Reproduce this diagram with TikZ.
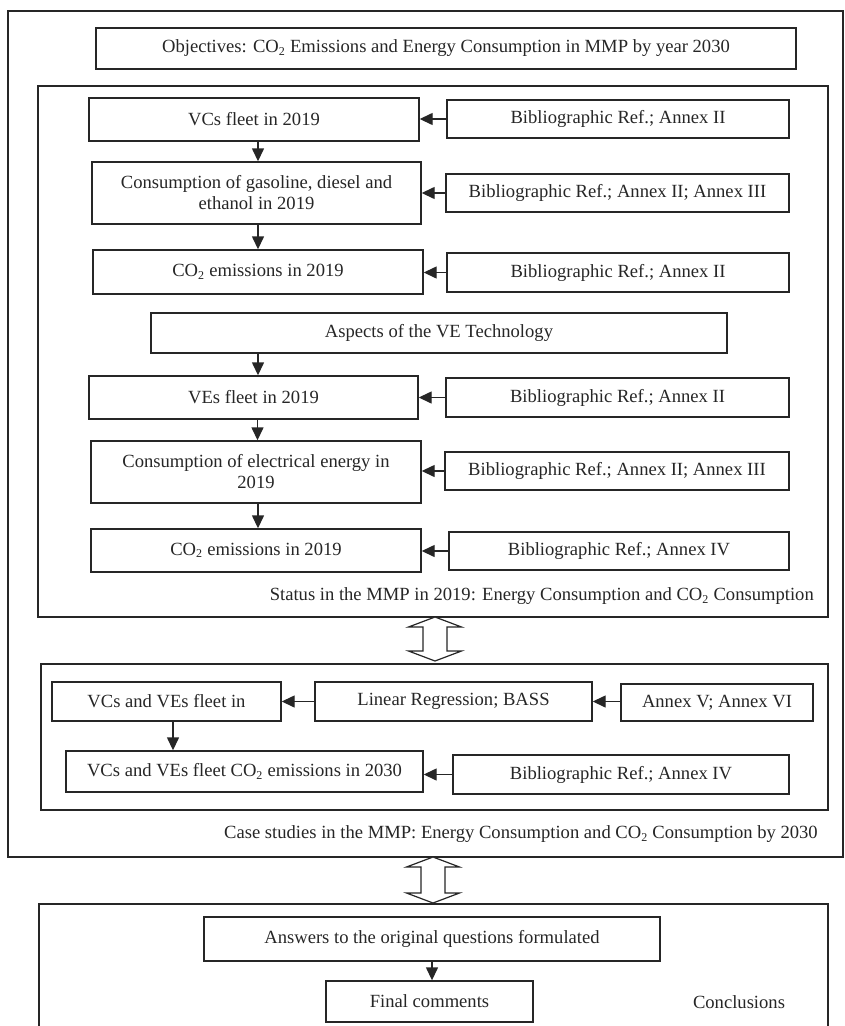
\documentclass[tikz,border=0pt]{standalone}
\usepackage{fontspec}
\setmainfont{Liberation Serif}
\usetikzlibrary{arrows.meta,calc}
\tikzset{
  ln/.style={draw=black!85, line width=1.4pt},
  box/.style={ln, rectangle, inner sep=0pt, align=center, text=black!85},
  lbl/.style={inner sep=0pt, text=black!85},
  arr/.style={ln, -{Triangle[length=13pt,width=12pt]}},
  hollow/.style={ln, fill=white, line width=1.2pt, line join=miter}
}
\newcommand{\cotwo}{CO\textsubscript{\fontsize{12}{12}\selectfont 2}}
\begin{document}
\begin{tikzpicture}[x=1pt,y=-1pt,font=\fontsize{18.6}{21}\selectfont]
\useasboundingbox (0,0) rectangle (845,1026);
% frames
\draw[ln] (8,11) rectangle (843,857);
\draw[ln] (38,86) rectangle (828,617);
\draw[ln] (41,664) rectangle (828,810);
\draw[ln] (39,1040) |- (828,904) -- (828,1040);
% objectives
\node[box, minimum width=700, minimum height=41] (obj) at (446,48.5) {Objectives: \cotwo{} Emissions and Energy Consumption in MMP by year 2030};
% status section
\node[box, minimum width=330, minimum height=43] (vcs) at (254,119.5) {VCs fleet in 2019};
\node[box, minimum width=342, minimum height=38] (bib1) at (618,119) {Bibliographic Ref.; Annex II};
\node[box, minimum width=329, minimum height=62] (cons1) at (256.5,193) {Consumption of gasoline, diesel and\\ethanol in 2019};
\node[box, minimum width=343, minimum height=38] (bib2) at (617.5,193) {Bibliographic Ref.; Annex II; Annex III};
\node[box, minimum width=330, minimum height=44] (co2a) at (258,272) {\cotwo{} emissions in 2019};
\node[box, minimum width=342, minimum height=39] (bib3) at (618,272.5) {Bibliographic Ref.; Annex II};
\node[box, minimum width=576, minimum height=40] (asp) at (439,333) {Aspects of the VE Technology};
\node[box, minimum width=329, minimum height=43] (ves) at (253.5,397.5) {VEs fleet in 2019};
\node[box, minimum width=343, minimum height=39] (bib4) at (617.5,397.5) {Bibliographic Ref.; Annex II};
\node[box, minimum width=330, minimum height=62] (cons2) at (256,472) {Consumption of electrical energy in\\2019};
\node[box, minimum width=344, minimum height=38] (bib5) at (617,471) {Bibliographic Ref.; Annex II; Annex III};
\node[box, minimum width=330, minimum height=43] (co2b) at (256,550.5) {\cotwo{} emissions in 2019};
\node[box, minimum width=340, minimum height=38] (bib6) at (619,551) {Bibliographic Ref.; Annex IV};
\node[lbl, anchor=east] (stat) at (814,596) {Status in the MMP in 2019: Energy Consumption and \cotwo{} Consumption};
% case section
\node[box, minimum width=229, minimum height=39] (vcve) at (166.5,701.5) {VCs and VEs fleet in};
\node[box, minimum width=277, minimum height=39] (lin) at (453.5,701.5) {Linear Regression; BASS};
\node[box, minimum width=192, minimum height=37] (anx) at (717,702.5) {Annex V; Annex VI};
\node[box, minimum width=357, minimum height=41] (fl30) at (244.5,771.5) {VCs and VEs fleet \cotwo{} emissions in 2030};
\node[box, minimum width=336, minimum height=39] (bib7) at (621,774.5) {Bibliographic Ref.; Annex IV};
\node[lbl, anchor=east] (case) at (818,834) {Case studies in the MMP: Energy Consumption and \cotwo{} Consumption by 2030};
% conclusions
\node[box, minimum width=456, minimum height=44] (ans) at (432,939) {Answers to the original questions formulated};
\node[box, minimum width=207, minimum height=41] (fin) at (429.5,1001.5) {Final comments};
\node[lbl] (concl) at (739,1002) {Conclusions};
% arrows
\draw[arr] (bib1.west) -- (bib1.west -| vcs.east);
\draw[arr] (bib2.west) -- (bib2.west -| cons1.east);
\draw[arr] (bib3.west) -- (bib3.west -| co2a.east);
\draw[arr] (bib4.west) -- (bib4.west -| ves.east);
\draw[arr] (bib5.west) -- (bib5.west -| cons2.east);
\draw[arr] (bib6.west) -- (bib6.west -| co2b.east);
\draw[arr] ([xshift=4pt]vcs.south) -- ([xshift=4pt]vcs.south |- cons1.north);
\draw[arr] ([xshift=1.5pt]cons1.south) -- ([xshift=1.5pt]cons1.south |- co2a.north);
\draw[arr] (asp.south -| co2a.south) -- (co2a.south |- ves.north);
\draw[arr] ([xshift=4pt]ves.south) -- ([xshift=4pt]ves.south |- cons2.north);
\draw[arr] ([xshift=2pt]cons2.south) -- ([xshift=2pt]cons2.south |- co2b.north);
\draw[arr] (anx.west |- lin.east) -- (lin.east);
\draw[arr] (lin.west) -- (vcve.east);
\draw[arr] ([xshift=6.5pt]vcve.south) -- ([xshift=6.5pt]vcve.south |- fl30.north);
\draw[arr] (bib7.west) -- (bib7.west -| fl30.east);
\draw[arr] (ans.south) -- (ans.south |- fin.north);
% hollow double arrows
\draw[hollow] (435,617) -- ++(26.5,10) -- ++(-14.5,0) -- ++(0,24) -- ++(14.5,0) -- ++(-26.5,10) -- ++(-26.5,-10) -- ++(14.5,0) -- ++(0,-24) -- ++(-14.5,0) -- cycle;
\draw[hollow] (433,857) -- ++(26.5,10) -- ++(-14.5,0) -- ++(0,26) -- ++(14.5,0) -- ++(-26.5,10) -- ++(-26.5,-10) -- ++(14.5,0) -- ++(0,-26) -- ++(-14.5,0) -- cycle;
\end{tikzpicture}
\end{document}
